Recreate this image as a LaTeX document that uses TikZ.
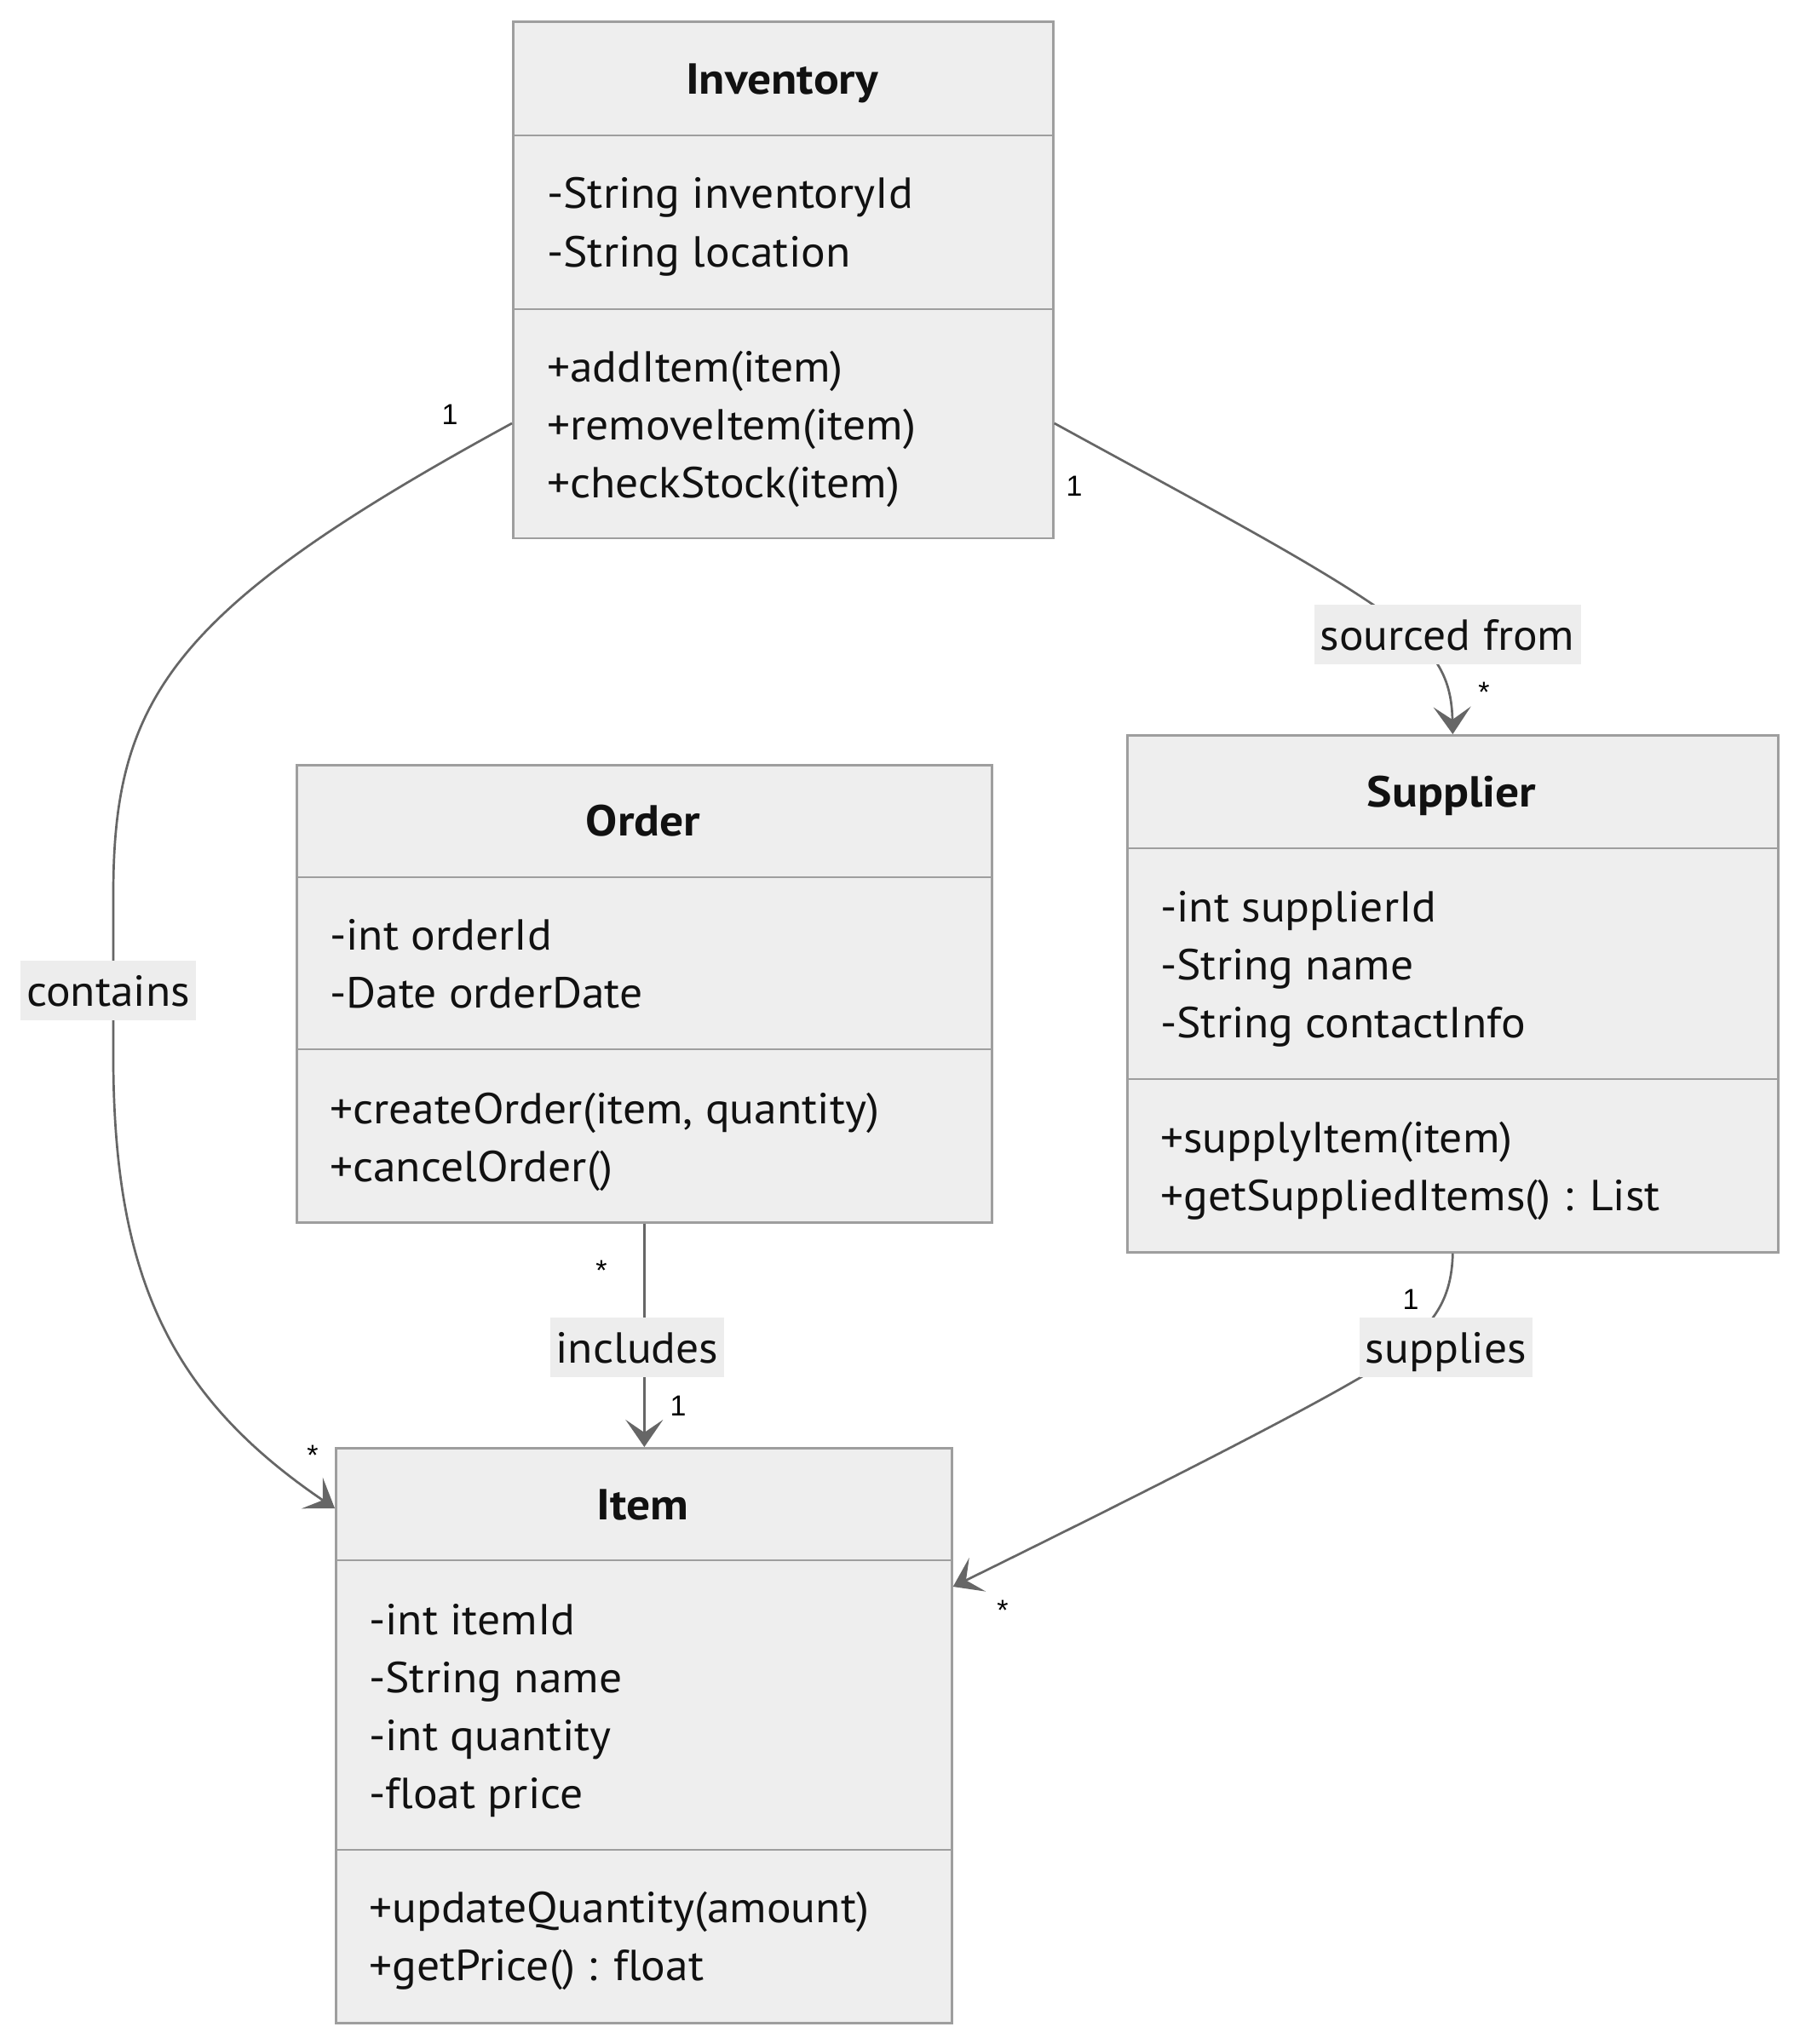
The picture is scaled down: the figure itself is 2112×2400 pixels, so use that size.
\documentclass[tikz,border=0pt]{standalone}
\usepackage{fontspec}
\setmainfont{PT Sans}[FakeStretch=1.05, Ligatures=NoCommon, BoldFeatures={FakeStretch=1.09}]
\newfontfamily\multfont{Liberation Sans}
\usetikzlibrary{arrows.meta,calc}
\definecolor{boxfill}{HTML}{EEEEEE}
\definecolor{boxline}{HTML}{9E9E9E}
\definecolor{edgecol}{HTML}{666666}
\definecolor{txt}{HTML}{111111}
\definecolor{lblfill}{HTML}{EDEDED}
\begin{document}
\begin{tikzpicture}[x=1pt,y=-1pt,
 classbox/.style={draw=boxline, fill=boxfill, line width=2.7pt, inner sep=0pt, anchor=north west},
 divider/.style={draw=boxline, line width=2.7pt},
 titletext/.style={font=\bfseries\fontsize{51}{60}\selectfont, text=txt, inner sep=0pt, anchor=base},
 membertext/.style={font=\fontsize{51}{60}\selectfont, text=txt, inner sep=0pt, anchor=base west},
 edgeline/.style={draw=edgecol, line width=2.7pt},
 arrowline/.style={edgeline, -{Stealth[length=32pt,width=44pt,inset=15pt]}},
 edgelabel/.style={fill=lblfill, font=\fontsize{51}{60}\selectfont, text=txt, inner xsep=7pt, inner ysep=12pt, text height=42pt, text depth=4pt},
 multlabel/.style={font=\multfont\fontsize{34}{40}\selectfont, text=black, inner sep=0pt},
]
\fill[white] (0,0) rectangle (2112,2400);
\useasboundingbox (0,0) rectangle (2112,2400);

% ---------- Inventory ----------
\node[classbox, minimum width=634pt, minimum height=606pt] (inv) at (601,24.5) {};
\draw[divider] (inv.west |- 0,159) -- (inv.east |- 0,159);
\draw[divider] (inv.west |- 0,363) -- (inv.east |- 0,363);
\node[titletext] (invT) at (918,111) {Inventory};
\foreach \t [count=\i from 0] in {{-String inventoryId},{-String location}}
  \node[membertext] (invA\i) at (642,{245+68*\i}) {\t};
\foreach \t [count=\i from 0] in {{+addItem(item)},{+removeItem(item)},{+checkStock(item)}}
  \node[membertext] (invM\i) at (642,{448+68*\i}) {\t};

% ---------- Order ----------
\node[classbox, minimum width=816pt, minimum height=537pt] (ord) at (347,897) {};
\draw[divider] (ord.west |- 0,1030) -- (ord.east |- 0,1030);
\draw[divider] (ord.west |- 0,1232) -- (ord.east |- 0,1232);
\node[titletext] (ordT) at (755,981) {Order};
\foreach \t [count=\i from 0] in {{-int orderId},{-Date orderDate}}
  \node[membertext] (ordA\i) at (387,{1115+68*\i}) {\t};
\foreach \t [count=\i from 0] in {{+createOrder(item, quantity)},{+cancelOrder()}}
  \node[membertext] (ordM\i) at (387,{1319+68*\i}) {\t};

% ---------- Supplier ----------
\node[classbox, minimum width=764pt, minimum height=607pt] (sup) at (1322,862) {};
\draw[divider] (sup.west |- 0,996) -- (sup.east |- 0,996);
\draw[divider] (sup.west |- 0,1267) -- (sup.east |- 0,1267);
\node[titletext] (supT) at (1704,947) {Supplier};
\foreach \t [count=\i from 0] in {{-int supplierId},{-String name},{-String contactInfo}}
  \node[membertext] (supA\i) at (1362,{1082+68*\i}) {\t};
\foreach \t [count=\i from 0] in {{+supplyItem(item)},{+getSuppliedItems() : List}}
  \node[membertext] (supM\i) at (1362,{1353+68*\i}) {\t};

% ---------- Item ----------
\node[classbox, minimum width=723pt, minimum height=675pt] (item) at (393,1699) {};
\draw[divider] (item.west |- 0,1832) -- (item.east |- 0,1832);
\draw[divider] (item.west |- 0,2172) -- (item.east |- 0,2172);
\node[titletext] (itemT) at (754.5,1784) {Item};
\foreach \t [count=\i from 0] in {{-int itemId},{-String name},{-int quantity},{-float price}}
  \node[membertext] (itemA\i) at (433,{1919+68*\i}) {\t};
\foreach \t [count=\i from 0] in {{+updateQuantity(amount)},{+getPrice() : float}}
  \node[membertext] (itemM\i) at (433,{2257+68*\i}) {\t};

% ---------- Connectors ----------
\draw[arrowline] (inv.west |- 0,497) .. controls (201,715) and (133,820) .. (133,1050)
  -- (133,1250) .. controls (135,1500) and (200,1640) .. (item.west |- 0,1771);
\draw[arrowline] (inv.east |- 0,497) .. controls (1420,597) and (1560,670) .. (1640,730)
  .. controls (1690,770) and (1704,800) .. (sup.north);
\draw[arrowline] (sup.south) .. controls (1704,1530) and (1680,1555) .. (1640,1590)
  .. controls (1600,1620) and (1450,1700) .. (item.east |- 0,1863);
\draw[arrowline] (ord.south) -- (ord.south |- item.north);

% ---------- Edge labels ----------
\node[edgelabel] (lcontains) at (127,1162.5) {contains};
\node[edgelabel] (lsourced) at (1699,744.5) {sourced from};
\node[edgelabel] (lincludes) at (748,1581.5) {includes};
\node[edgelabel] (lsupplies) at (1697.5,1581.5) {supplies};

% ---------- Multiplicities ----------
\node[multlabel] (m1) at (528,487) {1};
\node[multlabel] (m2) at (1261,571) {1};
\node[multlabel] (m3) at (1742,813) {*};
\node[multlabel] (m4) at (706,1492) {*};
\node[multlabel] (m5) at (796,1651) {1};
\node[multlabel] (m6) at (367,1709) {*};
\node[multlabel] (m7) at (1656,1526) {1};
\node[multlabel] (m8) at (1177,1891) {*};
\end{tikzpicture}
\end{document}
